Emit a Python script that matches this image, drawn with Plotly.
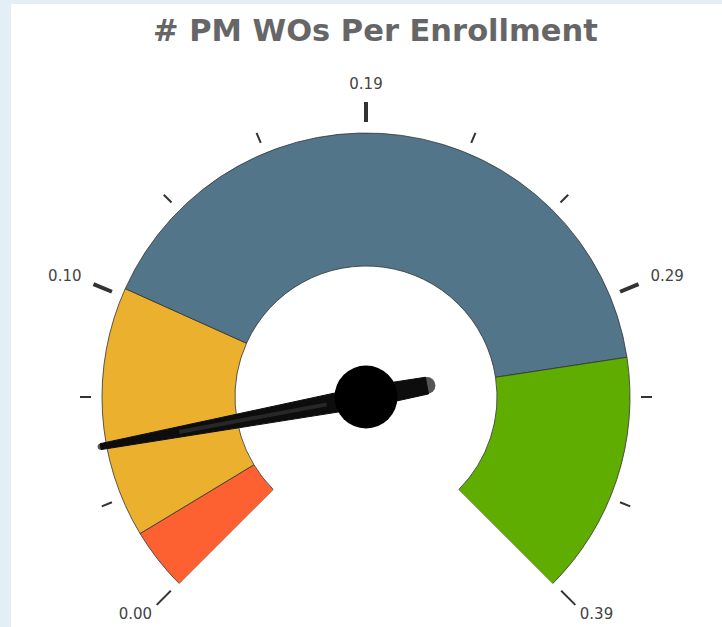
import math
import plotly.graph_objects as go

# ---------------- data ----------------
title_text = "# PM WOs Per Enrollment"
gauge_min = 0.0
gauge_max = 0.39
band_starts = [0.00, 0.02, 0.10, 0.3125]
band_ends = [0.02, 0.10, 0.3125, 0.39]
band_colors = ["#fd6131", "#ebb02d", "#527589", "#5fad00"]
needle_value = 0.0497
major_tick_values = [0.0, 0.0975, 0.195, 0.2925, 0.39]
major_tick_labels = ["0.00", "0.10", "0.19", "0.29", "0.39"]
minor_ticks_between = 2

# ---------------- geometry ----------------
W, H = 722, 627
CX, CY = 366, 397          # gauge centre in page pixels
R_OUT, R_IN = 264, 131
R_MAX = 325                # radial range (1 unit = 1 px)
SWEEP = 270.0


def v2deg(v):
    return (v - gauge_min) / (gauge_max - gauge_min) * SWEEP


fig = go.Figure()

# bands
centers = [(v2deg(a) + v2deg(b)) / 2 for a, b in zip(band_starts, band_ends)]
widths = [v2deg(b) - v2deg(a) for a, b in zip(band_starts, band_ends)]
fig.add_trace(go.Barpolar(
    r=[R_OUT - R_IN] * len(centers), base=[R_IN] * len(centers),
    theta=centers, width=widths,
    marker=dict(color=band_colors, line=dict(color="#333333", width=0.8)),
    hoverinfo="skip",
))

# ticks
major_deg = [v2deg(v) for v in major_tick_values]
minor_deg = []
for a, b in zip(major_deg[:-1], major_deg[1:]):
    step = (b - a) / (minor_ticks_between + 1)
    for k in range(1, minor_ticks_between + 1):
        minor_deg.append(a + k * step)

mr, mt = [], []
for d in major_deg:
    mr += [275, 295, None]
    mt += [d, d, None]
fig.add_trace(go.Scatterpolar(r=mr, theta=mt, mode="lines",
                              line=dict(color="#333333", width=4),
                              cliponaxis=False, hoverinfo="skip"))
nr, nt = [], []
for d in minor_deg:
    nr += [275, 286, None]
    nt += [d, d, None]
fig.add_trace(go.Scatterpolar(r=nr, theta=nt, mode="lines",
                              line=dict(color="#333333", width=2),
                              cliponaxis=False, hoverinfo="skip"))

# tick labels: horizontal text placed just outside the major ticks
lr, lt = [], []
for d in major_deg:
    a = math.radians(d - 135)
    dx = (302 + 24) * math.sin(a)
    dy = (302 + 10) * math.cos(a)          # upwards
    dy = max(dy, -(H - 12 - CY))            # keep inside the page
    lr.append(math.hypot(dx, dy))
    lt.append(135 + math.degrees(math.atan2(dx, dy)))
fig.add_trace(go.Scatterpolar(r=lr, theta=lt, mode="text",
                              text=major_tick_labels,
                              textfont=dict(family="DejaVu Sans", size=15, color="#444444"),
                              cliponaxis=False, hoverinfo="skip"))

# needle (tapered body + tail)
na = v2deg(needle_value)
local = [(270, 3), (0, 10.5), (-62, 8.5), (-62, -8.5), (0, -10.5), (270, -3), (270, 3)]
pr, pt = [], []
for u, w in local:
    pr.append(math.hypot(u, w))
    pt.append(na + math.degrees(math.atan2(w, u)))
fig.add_trace(go.Scatterpolar(r=pr, theta=pt, mode="lines", fill="toself",
                              fillcolor="#0d0d0d", line=dict(color="#0d0d0d", width=1),
                              cliponaxis=False, hoverinfo="skip"))
# soft highlight along the needle
fig.add_trace(go.Scatterpolar(r=[40, 190], theta=[na, na], mode="lines",
                              line=dict(color="rgba(70,70,70,0.45)", width=4),
                              cliponaxis=False, hoverinfo="skip"))
fig.add_trace(go.Scatterpolar(r=[270, 62], theta=[na, na + 180], mode="markers",
                              marker=dict(size=[6, 17], color="#0d0d0d", line=dict(width=0)),
                              cliponaxis=False, hoverinfo="skip"))
# hub
fig.add_trace(go.Scatterpolar(r=[0], theta=[0], mode="markers",
                              marker=dict(size=63, color="#000000", line=dict(width=0)),
                              cliponaxis=False, hoverinfo="skip"))

S = math.sin(math.radians(45))
fig.update_layout(
    width=W, height=H,
    margin=dict(l=0, r=0, t=0, b=0),
    paper_bgcolor="#e4eef5",
    showlegend=False,
    polar=dict(
        domain=dict(x=[(CX - R_MAX) / W, (CX + R_MAX) / W],
                    y=[max(0.0, (H - (CY + S * R_MAX)) / H), (H - (CY - R_MAX)) / H]),
        sector=[-45, 225],
        bgcolor="rgba(0,0,0,0)",
        radialaxis=dict(visible=False, range=[0, R_MAX]),
        angularaxis=dict(visible=False, rotation=225, direction="clockwise"),
        bargap=0,
    ),
    shapes=[dict(type="rect", xref="paper", yref="paper",
                 x0=11 / W, x1=1, y0=0, y1=(H - 4) / H,
                 fillcolor="#ffffff", line=dict(width=0), layer="below")],
    annotations=[dict(text=title_text, xref="paper", yref="paper",
                      x=375.5 / W, y=(H - 30.5) / H, xanchor="center", yanchor="middle",
                      showarrow=False,
                      font=dict(family="DejaVu Sans", size=30.5, color="#666666", weight="bold"))],
)

fig.write_html("out.html", config={"displayModeBar": False},
               post_script="document.body.style.margin='0';document.body.style.overflow='hidden';")
